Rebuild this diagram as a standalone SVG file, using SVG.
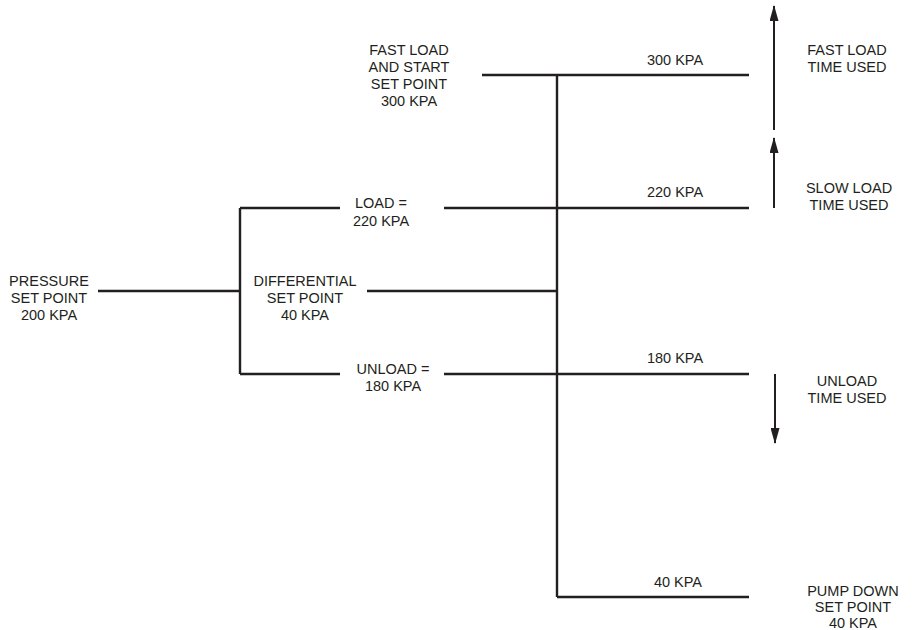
<svg xmlns="http://www.w3.org/2000/svg" width="914" height="630" viewBox="0 0 914 630">
<defs>
<style>
text{font-family:"Liberation Sans",Arial,sans-serif;font-size:14.5px;fill:#231f20;text-anchor:middle}
.ln{stroke:#231f20;stroke-width:2.4;fill:none}
.ar{stroke:#231f20;stroke-width:2;fill:none}
</style>
<marker id="ah" viewBox="0 0 16 9" refX="15" refY="4.5" markerWidth="16" markerHeight="9" markerUnits="userSpaceOnUse" orient="auto">
<path d="M0,0 L16,4.5 L0,9 Z" fill="#231f20"/>
</marker>
</defs>
<rect width="914" height="630" fill="#fff"/>
<g id="connectors">
<path class="ln" d="M98,291 H240 M240,208 V374 M240,208 H340 M240,374 H340 M444,208 H749 M444,374 H749 M367,291 H557 M557,75 V597 M482,75 H749 M557,597 H749"/>
<path class="ar" d="M774,130 V6" marker-end="url(#ah)"/>
<path class="ar" d="M774,208 V138" marker-end="url(#ah)"/>
<path class="ar" d="M775,374 V443" marker-end="url(#ah)"/>
</g>
<g id="fast-load-set">
<text x="409" y="55">FAST LOAD</text><text x="409" y="72">AND START</text><text x="409" y="89">SET POINT</text><text x="409" y="106">300 KPA</text>
</g>
<g id="kpa300"><text x="675" y="65">300 KPA</text></g>
<g id="fast-load-time"><text x="847" y="55">FAST LOAD</text><text x="847" y="72">TIME USED</text></g>
<g id="kpa220"><text x="675" y="197">220 KPA</text></g>
<g id="slow-load-time"><text x="849" y="193">SLOW LOAD</text><text x="849" y="210">TIME USED</text></g>
<g id="load"><text x="381" y="208">LOAD =</text><text x="381" y="226">220 KPA</text></g>
<g id="pressure"><text x="49" y="286">PRESSURE</text><text x="49" y="303">SET POINT</text><text x="49" y="320">200 KPA</text></g>
<g id="differential"><text x="305" y="286">DIFFERENTIAL</text><text x="305" y="303">SET POINT</text><text x="305" y="320">40 KPA</text></g>
<g id="kpa180"><text x="675" y="363">180 KPA</text></g>
<g id="unload"><text x="393" y="374">UNLOAD =</text><text x="393" y="391">180 KPA</text></g>
<g id="unload-time"><text x="847" y="386">UNLOAD</text><text x="847" y="403">TIME USED</text></g>
<g id="kpa40"><text x="678" y="587">40 KPA</text></g>
<g id="pump-down"><text x="853" y="596">PUMP DOWN</text><text x="853" y="612">SET POINT</text><text x="853" y="628">40 KPA</text></g>
</svg>
